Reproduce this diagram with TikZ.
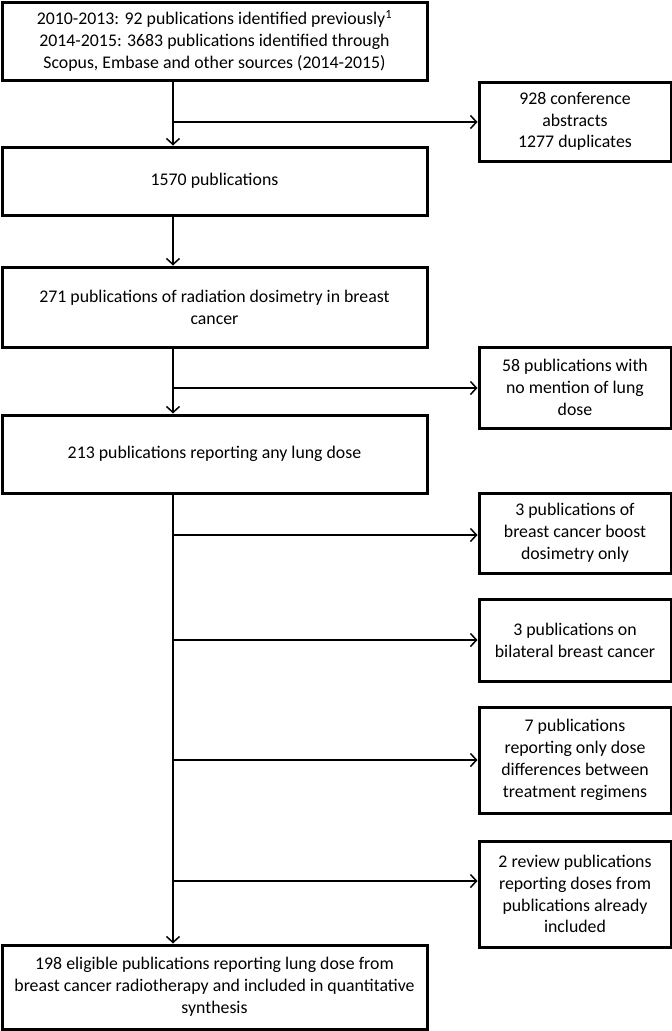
\documentclass[tikz,border=0pt]{standalone}
\usepackage{fontspec}
\setmainfont{Carlito}
\usetikzlibrary{arrows.meta}
\begin{document}
\begin{tikzpicture}[x=1pt, y=-1pt, font=\fontsize{17.8}{21.8}\selectfont,
    mainbox/.style={draw, line width=3pt, minimum width=425pt, align=center, inner sep=0pt},
    sidebox/.style={draw, line width=3pt, minimum width=192pt, align=center, inner sep=0pt},
    link/.style={line width=1.5pt},
    arr/.style={link, -{Straight Barb[length=6pt, width=13pt]}}]
  \useasboundingbox (0,0) rectangle (672,1031);
  \node[mainbox, minimum height=78pt] (found) at (214.5,41) {2010-2013: 92 publications identified previously\textsuperscript{1}\\2014-2015: 3683 publications identified through\\Scopus, Embase and other sources (2014-2015)};
  \node[mainbox, minimum height=68pt] (b1570) at (214.5,181) {1570 publications};
  \node[mainbox, minimum height=80pt] (b271) at (214.5,307) {271 publications of radiation dosimetry in breast\\cancer};
  \node[mainbox, minimum height=78pt] (b213) at (214.5,454) {213 publications reporting any lung dose};
  \node[mainbox, minimum height=84pt] (b198) at (214.5,987) {198 eligible publications reporting lung dose from\\breast cancer radiotherapy and included in quantitative\\synthesis};
  \node[sidebox, minimum height=79pt] (side1) at (575,121.5) {928 conference\\abstracts\\1277 duplicates};
  \node[sidebox, minimum height=81pt] (side2) at (575,387.5) {58 publications with\\no mention of lung\\dose};
  \node[sidebox, minimum height=80pt] (side3) at (575,533) {3 publications of\\breast cancer boost\\dosimetry only};
  \node[sidebox, minimum height=82pt] (side4) at (575,640) {3 publications on\\bilateral breast cancer};
  \node[sidebox, minimum height=106pt] (side5) at (575,760) {7 publications\\reporting only dose\\differences between\\treatment regimens};
  \node[sidebox, minimum height=106pt] (side6) at (575,894) {2 review publications\\reporting doses from\\publications already\\included};
  \coordinate (j1) at (173,122);
  \coordinate (j2) at (173,388);
  \coordinate (j3) at (173,535);
  \coordinate (j4) at (173,640);
  \coordinate (j5) at (173,760);
  \coordinate (j6) at (173,881);
  \draw[link] (found.south -| j1) -- (j1);
  \draw[arr] (j1) -- (b1570.north -| j1);
  \draw[arr] (j1) -- (j1 -| side1.west);
  \draw[arr] (b1570.south -| j1) -- (b271.north -| j1);
  \draw[arr] (b271.south -| j1) -- (b213.north -| j1);
  \draw[arr] (j2) -- (j2 -| side2.west);
  \draw[arr] (b213.south -| j3) -- (b198.north -| j3);
  \foreach \j/\s in {j3/side3, j4/side4, j5/side5, j6/side6}
    \draw[arr] (\j) -- (\j -| \s.west);
\end{tikzpicture}
\end{document}
